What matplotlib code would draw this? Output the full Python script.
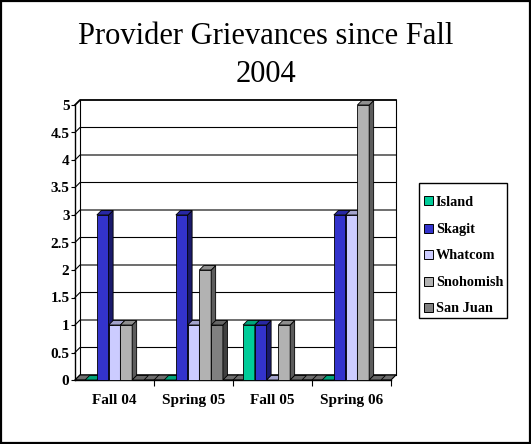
import matplotlib.pyplot as plt
from matplotlib.patches import Polygon, Rectangle

plt.rcParams['font.family'] = ['Liberation Serif', 'DejaVu Serif']

categories = ['Fall 04', 'Spring 05', 'Fall 05', 'Spring 06']
series_names = ['Island', 'Skagit', 'Whatcom', 'Snohomish', 'San Juan']
island = [0, 0, 1, 0]
skagit = [3, 3, 1, 3]
whatcom = [1, 1, 0, 3]
snohomish = [1, 2, 1, 5]
san_juan = [0, 1, 0, 0]
y_ticks = [0, 0.5, 1, 1.5, 2, 2.5, 3, 3.5, 4, 4.5, 5]
y_tick_labels = ['0', '0.5', '1', '1.5', '2', '2.5', '3', '3.5', '4', '4.5', '5']

series = [island, skagit, whatcom, snohomish, san_juan]
front_colors = ['#00CC99', '#3333CC', '#CCCCFF', '#B2B2B2', '#808080']
top_colors = ['#00A37A', '#2828A3', '#A3A3CC', '#8F8F8F', '#666666']
side_colors = ['#006B50', '#1A1A6B', '#7A7A99', '#5C5C5C', '#404040']

W, H = 531, 444
fig = plt.figure(figsize=(W / 100, H / 100), dpi=100)
# front plane of the 3d box, in pixels
left_px, right_px, bot_px, top_px = 75, 391, 380, 105
ax = fig.add_axes([left_px / W, 1 - bot_px / H,
                   (right_px - left_px) / W, (bot_px - top_px) / H])
ax.set_xlim(-0.5, 3.5)
ax.set_ylim(0, 5)
ax.patch.set_alpha(0)

ppx = (right_px - left_px) / 4.0
ppy = (bot_px - top_px) / 5.0
wdx, wdy = 5 / ppx, 5 / ppy      # wall depth
bdx, bdy = 4.5 / ppx, 4.5 / ppy  # column depth
x0, x1 = -0.5, 3.5

# back wall with gridlines and the left side wall
for v in y_ticks:
    lw = 1.3 if v == 5 else 0.8
    ax.plot([x0, x0 + wdx, x1 + wdx], [v, v + wdy, v + wdy],
            color='black', lw=lw, clip_on=False, zorder=1)
for xx in (x0 + wdx, x1 + wdx):
    ax.plot([xx, xx], [wdy, 5 + wdy], color='black', lw=0.8,
            clip_on=False, zorder=1)

# floor
ax.add_patch(Polygon([(x0, 0), (x1, 0), (x1 + wdx, wdy), (x0 + wdx, wdy)],
                     closed=True, facecolor='#6E6E6E', edgecolor='black',
                     lw=0.8, clip_on=False, zorder=2))
for b in [0.5, 1.5, 2.5]:
    ax.plot([b, b + wdx], [0, wdy], color='black', lw=0.6,
            clip_on=False, zorder=2)

# 3d columns
bw = 0.149
z = 3
for j in range(len(categories)):
    for i, vals in enumerate(series):
        h = vals[j]
        a = j + (i - 2) * bw - bw / 2
        b = a + bw
        if h > 0:
            ax.add_patch(Rectangle((a, 0), bw, h, facecolor=front_colors[i],
                                   edgecolor='black', lw=0.6,
                                   clip_on=False, zorder=z))
            ax.add_patch(Polygon([(b, 0), (b + bdx, bdy), (b + bdx, h + bdy), (b, h)],
                                 closed=True, facecolor=side_colors[i],
                                 edgecolor='black', lw=0.6,
                                 clip_on=False, zorder=z))
        ax.add_patch(Polygon([(a, h), (b, h), (b + bdx, h + bdy), (a + bdx, h + bdy)],
                             closed=True, facecolor=top_colors[i],
                             edgecolor='black', lw=0.6,
                             clip_on=False, zorder=z))
        z += 0.01

for s in ('top', 'right'):
    ax.spines[s].set_visible(False)
for s in ('left', 'bottom'):
    ax.spines[s].set_linewidth(1.0)
    ax.spines[s].set_zorder(2.5)

ax.set_yticks(y_ticks, y_tick_labels)
ax.set_xticks(range(len(categories)), categories)
ax.set_xticks([0.5, 1.5, 2.5, 3.5], minor=True)
ax.tick_params(axis='y', length=3, width=0.8, pad=1, labelsize=11)
ax.tick_params(axis='x', which='major', length=0, pad=10, labelsize=11)
ax.tick_params(axis='x', which='minor', length=4, width=0.8)
for lbl in ax.get_xticklabels() + ax.get_yticklabels():
    lbl.set_fontweight('bold')

fig.text(266 / W, 1 - 44 / H, 'Provider Grievances since Fall',
         ha='center', va='baseline', fontsize=22)
fig.text(266 / W, 1 - 82 / H, '2004',
         ha='center', va='baseline', fontsize=22)

# legend box drawn in pixel positions
def fx(px):
    return px / W

def fy(py):
    return 1 - py / H

fig.add_artist(Rectangle((fx(419), fy(318)), (507 - 419) / W, (318 - 183) / H,
                         transform=fig.transFigure, facecolor='white',
                         edgecolor='black', lw=1.0))
row_y = [201, 228, 254, 281, 307]
for name, col, ry in zip(series_names, front_colors, row_y):
    fig.add_artist(Rectangle((fx(424), fy(ry + 4.5)), 9 / W, 9 / H,
                             transform=fig.transFigure, facecolor=col,
                             edgecolor='black', lw=0.7))
    fig.text(fx(436), fy(ry), name, ha='left', va='center_baseline',
             fontsize=10.3, fontweight='bold')

fig.add_artist(Rectangle((0.002, 0.002), 0.996, 0.996, transform=fig.transFigure,
                         fill=False, edgecolor='black', lw=1.6))

fig.savefig('out.png', dpi=100)
